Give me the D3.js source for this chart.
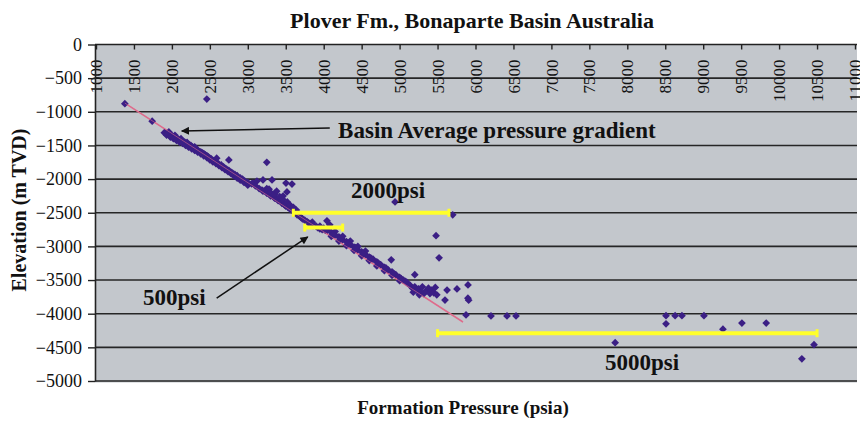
<!DOCTYPE html>
<html>
<head>
<meta charset="utf-8">
<script src="https://cdn.jsdelivr.net/npm/d3@7"></script>
<style>
  html, body { margin: 0; padding: 0; background: #ffffff; }
  svg { display: block; }
  text { font-family: "Liberation Serif", "Times New Roman", serif; fill: #111; }
</style>
</head>
<body>
<svg id="chart" width="860" height="423"></svg>
<script>
// Formation pressure (psia) and elevation (m TVD) of each pressure measurement
const pressure = [
  1380, 1740, 2460,
  1900, 1920, 1950, 1970, 1990, 2010, 2030, 2050, 2070, 2090, 2110, 2130, 2150, 2170, 2190, 2210, 2230, 2250, 2270, 2290, 2310, 2330, 2350, 2380, 2400, 2420, 2440,
  1960, 2040, 2120, 2200, 2300,
  1930, 1980, 2020, 2060, 2100, 2140, 2180, 2220, 2260, 2300, 2340, 2380, 2420, 2460, 2500, 2540, 2580, 2620, 2660, 2700, 2740, 2780, 2820, 2860, 2900, 2950, 3000,
  2460, 2480, 2500, 2520, 2540, 2560, 2580, 2600, 2620, 2650, 2680, 2700, 2720, 2750, 2780, 2800, 2830, 2860, 2900, 2930, 2960, 3000,
  2590, 2750, 3250,
  3068, 3200, 3319, 3187, 3358, 3503, 3582, 3120, 3250, 3280, 3516,
  3050, 3100, 3150, 3200, 3250, 3300, 3350, 3400, 3420, 3450, 3480, 3500, 3530, 3560, 3600, 3620, 3650, 3680, 3700, 3720,
  3424, 3490, 3556, 3464, 3358,
  3300, 3350, 3380, 3420, 3460, 3520, 3560, 3600, 3640,
  3750, 3780, 3800, 3830, 3860, 3900, 3920, 3950, 3980, 4043, 4080,
  4000, 4050, 4100, 4150, 4200, 4250, 4300, 4350, 4400, 4450, 4500, 4550, 4600, 4650, 4700, 4750, 4800, 4850, 4900, 4950, 5000, 5050, 5100,
  4100, 4200, 4300, 4400, 4500, 4600, 4700, 4800, 4900, 5000,
  4150, 4250, 4350, 4450, 4550,
  3850, 3950, 4020, 4120, 4220, 4320, 4420, 4520, 4620, 4720, 4820, 4920, 5020, 5080,
  5140, 5170, 5200, 5220, 5250, 5280, 5300, 5320, 5350, 5380, 5400, 5420, 5450, 5470, 5490, 5180, 5260,
  5625, 5598, 5756, 5901, 5900, 5910, 5875,
  6204, 6415, 6534,
  4940, 5700, 5480, 5520, 4890, 5200,
  7840, 8510, 8510, 8630, 8720, 9010, 9260, 9510, 9830, 10460, 10300
];
const elevation = [
  -880, -1140, -810,
  -1310, -1320, -1335, -1350, -1340, -1365, -1380, -1390, -1395, -1410, -1420, -1430, -1445, -1450, -1470, -1480, -1490, -1500, -1520, -1540, -1550, -1560, -1580, -1595, -1610, -1620, -1640,
  -1300, -1350, -1400, -1455, -1520,
  -1345, -1375, -1400, -1425, -1450, -1470, -1500, -1525, -1550, -1575, -1600, -1625, -1655, -1680, -1715, -1745, -1770, -1800, -1830, -1860, -1890, -1920, -1955, -1985, -2015, -2050, -2090,
  -1650, -1670, -1690, -1700, -1720, -1730, -1750, -1760, -1780, -1790, -1820, -1840, -1850, -1870, -1900, -1910, -1930, -1950, -1980, -2000, -2030, -2050,
  -1690, -1716, -1750,
  -2058, -2013, -2013, -2162, -2207, -2058, -2073, -2030, -2140, -2150, -2190,
  -2070, -2100, -2140, -2180, -2210, -2250, -2280, -2320, -2300, -2360, -2380, -2400, -2420, -2450, -2480, -2500, -2530, -2550, -2570, -2590,
  -2311, -2385, -2430, -2252, -2281,
  -2200, -2230, -2180, -2260, -2300, -2340, -2390, -2420, -2460,
  -2610, -2630, -2650, -2660, -2690, -2700, -2720, -2740, -2750, -2620, -2680,
  -2730, -2760, -2790, -2830, -2860, -2900, -2930, -2970, -3010, -3050, -3080, -3120, -3160, -3190, -3230, -3270, -3310, -3350, -3380, -3420, -3460, -3500, -3540,
  -2850, -2920, -2990, -3060, -3140, -3210, -3290, -3360, -3430, -3510,
  -2780, -2850, -2920, -3000, -3070,
  -2640, -2700, -2760, -2820, -2880, -2950, -3020, -3100, -3170, -3250, -3320, -3400, -3480, -3520,
  -3580, -3620, -3600, -3650, -3630, -3680, -3600, -3700, -3660, -3620, -3700, -3650, -3690, -3610, -3720, -3680, -3720,
  -3648, -3797, -3632, -3573, -3770, -3800, -4019,
  -4034, -4034, -4034,
  -2340, -2530, -2840, -3170, -3200, -3420,
  -4430, -4030, -4150, -4030, -4030, -4030, -4230, -4140, -4140, -4460, -4670
];

// Basin average pressure gradient (end points)
const trendPressure = [1380, 5835];
const trendElevation = [-870, -4123];

// Pressure ranges marked in yellow
const rangeLabels = ["2000psi", "500psi", "5000psi"];
const rangeStart = [3600, 3750, 5500];
const rangeEnd = [5650, 4250, 10500];
const rangeElevation = [-2500, -2720, -4290];

// Axis ticks
const pressureTicks = [1000, 1500, 2000, 2500, 3000, 3500, 4000, 4500, 5000, 5500, 6000,
  6500, 7000, 7500, 8000, 8500, 9000, 9500, 10000, 10500, 11000];
const elevationTicks = [0, -500, -1000, -1500, -2000, -2500, -3000, -3500, -4000, -4500, -5000];

const svg = d3.select("#chart");
const plotL = 95, plotR = 857, plotT = 44.5, plotB = 381;

const x = d3.scaleLinear().domain([1000, 11000]).range([96, 855]);
const y = d3.scaleLinear().domain([0, -5000]).range([plotT, plotB]);

// plot background
svg.append("rect")
  .attr("x", plotL).attr("y", plotT)
  .attr("width", plotR - plotL).attr("height", plotB - plotT + 1.5)
  .attr("fill", "#c3c7cc");

// horizontal grid lines
svg.append("g").selectAll("line")
  .data(elevationTicks.slice(1))
  .join("line")
  .attr("x1", plotL).attr("x2", plotR)
  .attr("y1", d => y(d)).attr("y2", d => y(d))
  .attr("stroke", "#262626").attr("stroke-width", 1.6);

// top pressure axis, labels rotated and hanging below the line
const xAxis = svg.append("g")
  .attr("transform", `translate(0,${plotT})`)
  .call(d3.axisTop(x).tickValues(pressureTicks).tickFormat(d3.format("d"))
    .tickSizeInner(-5).tickSizeOuter(0));
xAxis.select(".domain").attr("stroke", "#222").attr("stroke-width", 1.6)
  .attr("d", `M${plotL},0H${plotR}`);
xAxis.selectAll(".tick line").attr("stroke", "#222").attr("stroke-width", 1.4);
xAxis.selectAll(".tick text")
  .attr("x", 0).attr("y", 0).attr("dy", "0.33em")
  .attr("text-anchor", "end")
  .attr("transform", "translate(0,15) rotate(-90)")
  .style("font-family", "'Liberation Serif', 'Times New Roman', serif")
  .style("font-size", "17px").attr("fill", "#222");

// left elevation axis
const yAxis = svg.append("g")
  .attr("transform", `translate(${plotL},0)`)
  .call(d3.axisLeft(y).tickValues(elevationTicks).tickFormat(d3.format("d"))
    .tickSizeInner(7).tickSizeOuter(0).tickPadding(6));
yAxis.select(".domain").attr("stroke", "#222").attr("stroke-width", 1.6);
yAxis.selectAll(".tick line").attr("stroke", "#222").attr("stroke-width", 1.4);
yAxis.selectAll(".tick text")
  .style("font-family", "'Liberation Serif', 'Times New Roman', serif")
  .style("font-size", "18px").attr("fill", "#222");

// trend line
svg.append("line")
  .attr("x1", x(trendPressure[0])).attr("y1", y(trendElevation[0]))
  .attr("x2", x(trendPressure[1])).attr("y2", y(trendElevation[1]))
  .attr("stroke", "#e2708c").attr("stroke-width", 1.6);

// measurement points as diamonds
const pts = pressure.map((p, i) => [p, elevation[i]]);
svg.append("g").selectAll("path")
  .data(pts)
  .join("path")
  .attr("d", d3.symbol(d3.symbolSquare, 30))
  .attr("transform", d => `translate(${x(d[0])},${y(d[1])}) rotate(45)`)
  .attr("fill", "#3b1f85");

// trend line drawn again thinly on top so it shows through the dense band
svg.append("line")
  .attr("x1", x(trendPressure[0])).attr("y1", y(trendElevation[0]))
  .attr("x2", x(trendPressure[1])).attr("y2", y(trendElevation[1]))
  .attr("stroke", "#d86a90").attr("stroke-width", 1).attr("opacity", 0.6);

// yellow pressure-range bars with end caps
const ranges = rangeLabels.map((l, i) => ({ s: rangeStart[i], e: rangeEnd[i], z: rangeElevation[i] }));
const rg = svg.append("g").attr("stroke", "#ffff2a");
rg.selectAll("line.bar").data(ranges).join("line").attr("class", "bar")
  .attr("x1", d => x(d.s)).attr("x2", d => x(d.e))
  .attr("y1", d => y(d.z)).attr("y2", d => y(d.z))
  .attr("stroke-width", 4);
rg.selectAll("line.cap").data(ranges.flatMap(d => [[d.s, d.z], [d.e, d.z]])).join("line").attr("class", "cap")
  .attr("x1", d => x(d[0])).attr("x2", d => x(d[0]))
  .attr("y1", d => y(d[1]) - 4).attr("y2", d => y(d[1]) + 4)
  .attr("stroke-width", 3);

// arrow marker
svg.append("defs").append("marker")
  .attr("id", "head").attr("viewBox", "0 0 10 10")
  .attr("refX", 9).attr("refY", 5)
  .attr("markerWidth", 10).attr("markerHeight", 8)
  .attr("markerUnits", "userSpaceOnUse")
  .attr("orient", "auto")
  .append("path").attr("d", "M0,0L10,5L0,10Z").attr("fill", "#111");

// annotations
const annFont = "'Liberation Serif', 'Times New Roman', serif";
const arrows = [
  { from: [4080, -1240], to: [2130, -1285] },
  { from: [2590, -3767], to: [3790, -2860] }
];
svg.append("g").selectAll("line").data(arrows).join("line")
  .attr("x1", d => x(d.from[0])).attr("y1", d => y(d.from[1]))
  .attr("x2", d => x(d.to[0])).attr("y2", d => y(d.to[1]))
  .attr("stroke", "#111").attr("stroke-width", 1.5)
  .attr("marker-end", "url(#head)");

const notes = [
  { t: "Basin Average pressure gradient", p: 4190, e: -1390, a: "start" },
  { t: rangeLabels[0], p: 4847, e: -2285, a: "middle" },
  { t: rangeLabels[1], p: 1620, e: -3870, a: "start" },
  { t: rangeLabels[2], p: 8194, e: -4840, a: "middle" }
];
svg.append("g").selectAll("text").data(notes).join("text")
  .attr("x", d => x(d.p)).attr("y", d => y(d.e))
  .attr("text-anchor", d => d.a)
  .style("font-family", annFont).style("font-weight", "bold").style("font-size", "23px")
  .text(d => d.t);

// titles
svg.append("text").attr("x", 472).attr("y", 28).attr("text-anchor", "middle")
  .style("font-family", annFont).style("font-weight", "bold").style("font-size", "22px")
  .text("Plover Fm., Bonaparte Basin Australia");
svg.append("text").attr("x", 463).attr("y", 414).attr("text-anchor", "middle")
  .style("font-family", annFont).style("font-weight", "bold").style("font-size", "19px")
  .text("Formation Pressure (psia)");
svg.append("text").attr("transform", "translate(26,210) rotate(-90)").attr("text-anchor", "middle")
  .style("font-family", annFont).style("font-weight", "bold").style("font-size", "20px")
  .text("Elevation (m TVD)");
</script>
</body>
</html>
